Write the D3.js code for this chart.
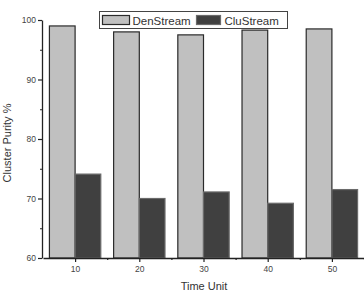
<!DOCTYPE html>
<html>
<head>
<meta charset="utf-8">
<script src="https://cdn.jsdelivr.net/npm/d3@7"></script>
<style>
  body { margin: 0; background: #fff; }
  text { font-family: "Liberation Sans", Arial, sans-serif; }
</style>
</head>
<body>
<div id="chart"></div>
<script>
var timeUnits = [10, 20, 30, 40, 50];
var denStream = [99.0, 98.0, 97.5, 98.3, 98.5];
var cluStream = [74.1, 70.0, 71.1, 69.2, 71.5];
var seriesNames = ["DenStream", "CluStream"];
var yTicks = [60, 70, 80, 90, 100];

var width = 364, height = 293;
var plotLeft = 42, plotRight = 364, plotTop = 20, plotBottom = 258;

var svg = d3.select("#chart").append("svg")
    .attr("width", width)
    .attr("height", height);

var x = d3.scaleLinear().domain([5, 55]).range([plotLeft + 1, plotRight]);
var y = d3.scaleLinear().domain([60, 100]).range([plotBottom, plotTop]);
var barW = x(4) - x(0);

// bars
var colors = ["#c0c0c0", "#404040"];
var strokes = ["#2a2a2a", "#6a6a6a"];
[denStream, cluStream].forEach(function (vals, s) {
    svg.append("g").selectAll("rect")
        .data(vals).enter()
        .append("rect")
        .attr("x", function (d, i) { return x(timeUnits[i]) - barW + s * barW; })
        .attr("y", function (d) { return y(d); })
        .attr("width", barW)
        .attr("height", function (d) { return y(60) - y(d); })
        .attr("fill", colors[s])
        .attr("stroke", strokes[s])
        .attr("stroke-width", 1.2);
});

// axes
svg.append("g")
    .attr("transform", "translate(" + plotLeft + ",0)")
    .call(d3.axisLeft(y).tickValues(yTicks).tickSize(4).tickPadding(2).tickSizeOuter(0));
svg.append("g")
    .attr("transform", "translate(" + plotLeft + ",0)")
    .call(d3.axisLeft(y).tickValues([65, 75, 85, 95]).tickSize(2).tickFormat("").tickSizeOuter(0))
    .select(".domain").remove();

svg.append("g")
    .attr("transform", "translate(0," + plotBottom + ")")
    .call(d3.axisBottom(x).tickValues(timeUnits).tickSize(4).tickPadding(4).tickSizeOuter(0));
svg.append("g")
    .attr("transform", "translate(0," + plotBottom + ")")
    .call(d3.axisBottom(x).tickValues([15, 25, 35, 45, 55]).tickSize(2).tickFormat("").tickSizeOuter(0))
    .select(".domain").remove();

svg.selectAll(".domain").attr("stroke", "#222").attr("stroke-width", 1.3);
svg.selectAll(".tick line").attr("stroke", "#222").attr("stroke-width", 1.2);
svg.selectAll(".tick text").attr("font-size", 8.5).attr("fill", "#444")
    .attr("font-family", "Liberation Sans, Arial, sans-serif");

// axis titles
svg.append("text")
    .attr("transform", "translate(11,143) rotate(-90)")
    .attr("text-anchor", "middle")
    .attr("font-size", 11)
    .attr("fill", "#333")
    .text("Cluster Purity %");
svg.append("text")
    .attr("x", 204)
    .attr("y", 290)
    .attr("text-anchor", "middle")
    .attr("font-size", 11)
    .attr("fill", "#333")
    .text("Time Unit");

// legend
var lg = svg.append("g");
lg.append("rect")
    .attr("x", 99.5).attr("y", 11.5)
    .attr("width", 188).attr("height", 17)
    .attr("fill", "#fff").attr("stroke", "#444").attr("stroke-width", 1);
var legendX = [102.5, 196.5];
seriesNames.forEach(function (name, s) {
    lg.append("rect")
        .attr("x", legendX[s]).attr("y", 15.5)
        .attr("width", s === 0 ? 27 : 24).attr("height", 9)
        .attr("fill", colors[s])
        .attr("stroke", strokes[s]).attr("stroke-width", 1.2);
    lg.append("text")
        .attr("x", legendX[s] + (s === 0 ? 30 : 28))
        .attr("y", 24.5)
        .attr("font-size", 11.5)
        .attr("fill", "#333")
        .text(name);
});
</script>
</body>
</html>
